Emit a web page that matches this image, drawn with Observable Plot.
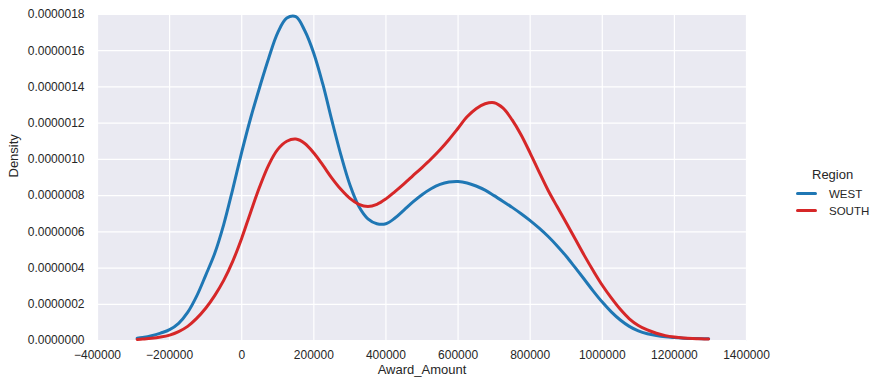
<!DOCTYPE html>
<html>
<head>
<meta charset="utf-8">
<script src="https://cdn.jsdelivr.net/npm/d3@7"></script>
<script src="https://cdn.jsdelivr.net/npm/@observablehq/plot@0.6"></script>
<style>
  html, body { margin: 0; padding: 0; background: #fff; }
  #wrap { position: relative; width: 882px; height: 387px; font-family: "Liberation Sans", Arial, sans-serif; }
  #legend { position: absolute; left: 796px; top: 167px; color: #262626; }
  #legend .title { font-size: 13px; margin-left: 16px; margin-bottom: 3px; }
  #legend .item { display: flex; align-items: center; font-size: 11.5px; height: 17px; }
  #legend .swatch { width: 21px; height: 3px; border-radius: 1.5px; margin-right: 12px; }
</style>
</head>
<body>
<div id="wrap"><div id="chart"></div><div id="legend"></div></div>
<script>
// Award_Amount grid (dollars)
const awardAmount = [-290000, -275000, -250000, -225000, -200000, -175000, -150000, -125000, -100000, -75000,
  -50000, -25000, 0, 25000, 50000, 75000, 100000, 125000, 150000, 175000,
  200000, 225000, 250000, 275000, 300000, 325000, 350000, 375000, 400000, 425000,
  450000, 475000, 500000, 525000, 550000, 575000, 600000, 625000, 650000, 675000,
  700000, 725000, 750000, 775000, 800000, 825000, 850000, 875000, 900000, 925000,
  950000, 975000, 1000000, 1025000, 1050000, 1075000, 1100000, 1125000, 1150000, 1175000,
  1200000, 1225000, 1250000, 1275000, 1295000];
// Density values (x 1e-6)
const westDensity = [0.012, 0.016, 0.026, 0.041, 0.06, 0.095, 0.155, 0.245, 0.36, 0.48,
  0.64, 0.835, 1.04, 1.23, 1.40, 1.56, 1.70, 1.78, 1.788, 1.71,
  1.585, 1.415, 1.215, 1.025, 0.86, 0.74, 0.672, 0.645, 0.645, 0.676,
  0.72, 0.765, 0.805, 0.838, 0.862, 0.875, 0.878, 0.87, 0.853, 0.83,
  0.80, 0.768, 0.735, 0.70, 0.662, 0.62, 0.574, 0.522, 0.465, 0.402,
  0.338, 0.273, 0.212, 0.158, 0.113, 0.078, 0.053, 0.037, 0.027, 0.02,
  0.016, 0.013, 0.011, 0.01, 0.009];
const southDensity = [0.006, 0.008, 0.012, 0.019, 0.03, 0.049, 0.078, 0.122, 0.178, 0.248,
  0.332, 0.437, 0.565, 0.71, 0.85, 0.97, 1.055, 1.10, 1.112, 1.088,
  1.035, 0.968, 0.897, 0.835, 0.785, 0.752, 0.74, 0.752, 0.782, 0.822,
  0.865, 0.91, 0.955, 1.002, 1.053, 1.11, 1.172, 1.235, 1.28, 1.307,
  1.313, 1.283, 1.218, 1.135, 1.035, 0.93, 0.828, 0.738, 0.65, 0.56,
  0.47, 0.385, 0.305, 0.235, 0.172, 0.12, 0.083, 0.058, 0.04, 0.027,
  0.019, 0.014, 0.011, 0.009, 0.008];
const regions = ["WEST", "SOUTH"];
const regionColors = ["#1f77b4", "#d62728"];
const xTicks = [-400000, -200000, 0, 200000, 400000, 600000, 800000, 1000000, 1200000, 1400000];
const yTicks = [0, 0.0000002, 0.0000004, 0.0000006, 0.0000008, 0.000001, 0.0000012, 0.0000014, 0.0000016, 0.0000018];

const rows = [];
awardAmount.forEach((x, i) => {
  rows.push({Region: "WEST", x, y: westDensity[i] * 1e-6});
  rows.push({Region: "SOUTH", x, y: southDensity[i] * 1e-6});
});

const fmtX = d => d < 0 ? "\u2212" + Math.abs(d) : String(d);
const fmtY = d => d.toFixed(7);

const chart = Plot.plot({
  width: 882,
  height: 387,
  marginLeft: 97,
  marginRight: 136,
  marginTop: 14,
  marginBottom: 47,
  style: {fontFamily: "Liberation Sans, Arial, sans-serif", fontSize: "12px", color: "#262626", background: "#fff"},
  x: {domain: [-400000, 1400000], ticks: xTicks, tickFormat: fmtX, tickSize: 0, tickPadding: 10, label: null},
  y: {domain: [0, 0.0000018], ticks: yTicks, tickFormat: fmtY, tickSize: 0, tickPadding: 13, label: null},
  color: {domain: regions, range: regionColors},
  marks: [
    Plot.frame({fill: "#eaeaf2", stroke: null}),
    Plot.gridX(xTicks, {stroke: "#fff", strokeOpacity: 1, strokeWidth: 1.2}),
    Plot.gridY(yTicks, {stroke: "#fff", strokeOpacity: 1, strokeWidth: 1.2}),
    Plot.line(rows, {x: "x", y: "y", z: "Region", stroke: "Region", strokeWidth: 3, curve: "catmull-rom"}),
    Plot.axisX(xTicks, {tickSize: 0, tickPadding: 10, fontSize: 12, fill: "#262626", tickFormat: fmtX, label: null}),
    Plot.axisY(yTicks, {tickSize: 0, tickPadding: 13, fontSize: 12, fill: "#262626", tickFormat: fmtY, label: null}),
    Plot.text(["Award_Amount"], {frameAnchor: "bottom", dy: 33, fontSize: 13, fill: "#262626", text: d => d}),
    Plot.text(["Density"], {frameAnchor: "left", dx: -84, rotate: -90, fontSize: 13, fill: "#262626", text: d => d})
  ]
});
document.getElementById("chart").appendChild(chart);

const legend = document.getElementById("legend");
legend.innerHTML = `<div class="title">Region</div>` + regions.map((r, i) =>
  `<div class="item"><span class="swatch" style="background:${regionColors[i]}"></span>${r}</div>`).join("");
</script>
</body>
</html>
